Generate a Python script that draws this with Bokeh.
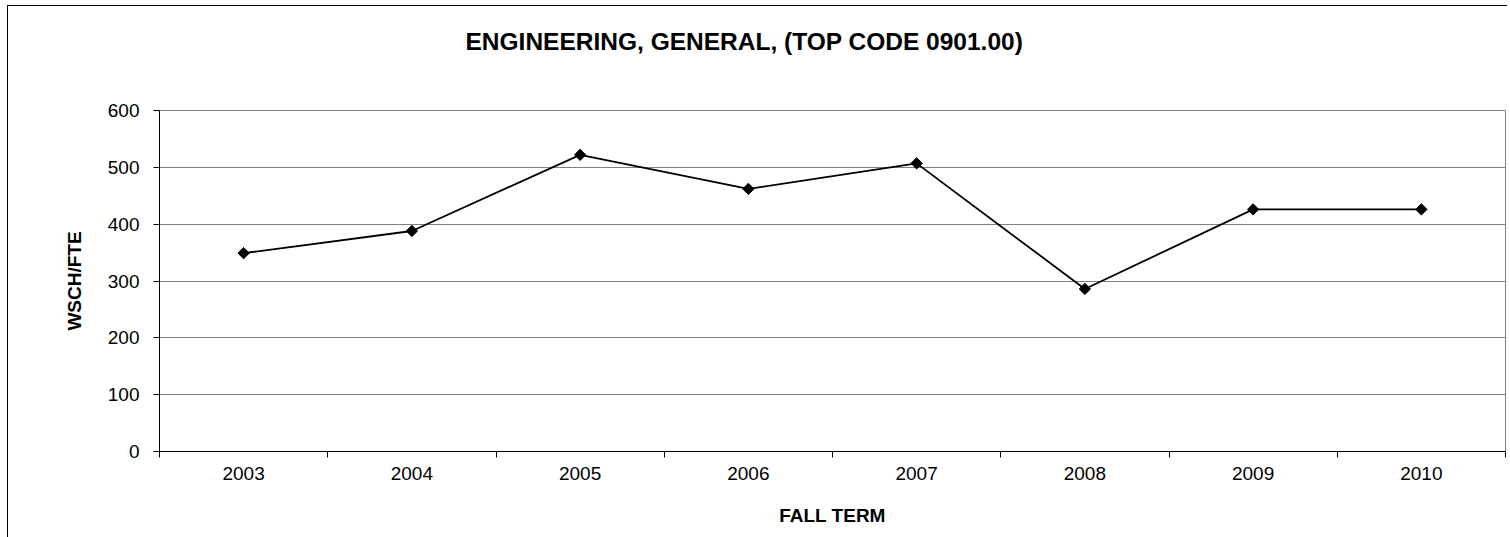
import math
from bokeh.plotting import figure
from bokeh.models import FixedTicker, Range1d, ColumnDataSource, Title
from bokeh.embed import file_html
from bokeh.resources import INLINE

# ---- data ----
years = ["2003", "2004", "2005", "2006", "2007", "2008", "2009", "2010"]
wsch_fte = [349, 388, 522, 462, 507, 286, 426, 426]
y_ticks = [0, 100, 200, 300, 400, 500, 600]
title_text = "ENGINEERING, GENERAL, (TOP CODE 0901.00)"
x_label = "FALL TERM"
y_label = "WSCH/FTE"

FONT = "Liberation Sans"

n = len(years)
xpos = [i + 0.5 for i in range(n)]
src = ColumnDataSource(dict(x=xpos, y=wsch_fte, year=years))

p = figure(width=1500, height=532, output_backend="svg", toolbar_location=None,
           title=None,
           x_range=Range1d(0, n), y_range=Range1d(0, 600),
           min_border_left=151, min_border_right=3, min_border_top=104, min_border_bottom=87)

p.styles = {"border-left": "1px solid black", "border-top": "1px solid black",
            "margin-left": "7px", "margin-top": "5px"}

# spacer between the plot area and the title, then the title itself
p.add_layout(Title(text=" ", text_font_size="2px", standoff=52), "above")
p.add_layout(Title(text=title_text, text_font=FONT, text_font_size="24.5px",
                   text_font_style="bold", text_color="black",
                   align="left", offset=306, standoff=0), "above")

p.background_fill_color = "white"
p.border_fill_color = "white"
p.outline_line_color = "#808080"
p.outline_line_width = 1

# grid
p.xgrid.grid_line_color = None
p.ygrid.grid_line_color = "#808080"
p.ygrid.grid_line_width = 1
p.ygrid.ticker = FixedTicker(ticks=y_ticks)

# y axis
p.yaxis.ticker = FixedTicker(ticks=y_ticks)
p.yaxis.axis_line_color = "black"
p.yaxis.axis_line_width = 1
p.yaxis.major_tick_in = 0
p.yaxis.major_tick_out = 6
p.yaxis.major_tick_line_color = "black"
p.yaxis.minor_tick_line_color = None
p.yaxis.major_label_text_font = FONT
p.yaxis.major_label_text_font_size = "19px"
p.yaxis.major_label_text_color = "black"
p.yaxis.major_label_standoff = 14
p.yaxis.axis_label = y_label
p.yaxis.axis_label_text_font = FONT
p.yaxis.axis_label_text_font_size = "19px"
p.yaxis.axis_label_text_font_style = "bold"
p.yaxis.axis_label_text_color = "black"
p.yaxis.axis_label_standoff = 20

# x axis: labels at category centres, ticks at category boundaries
p.xaxis.ticker = FixedTicker(ticks=xpos, minor_ticks=list(range(n + 1)))
p.xaxis.major_label_overrides = {x: yr for x, yr in zip(xpos, years)}
p.xaxis.axis_line_color = "black"
p.xaxis.axis_line_width = 1
p.xaxis.major_tick_in = 0
p.xaxis.major_tick_out = 0
p.xaxis.minor_tick_in = 0
p.xaxis.minor_tick_out = 6
p.xaxis.minor_tick_line_color = "black"
p.xaxis.major_label_text_font = FONT
p.xaxis.major_label_text_font_size = "19px"
p.xaxis.major_label_text_color = "black"
p.xaxis.major_label_standoff = 9
p.xaxis.axis_label = x_label
p.xaxis.axis_label_text_font = FONT
p.xaxis.axis_label_text_font_size = "19px"
p.xaxis.axis_label_text_font_style = "bold"
p.xaxis.axis_label_text_color = "black"
p.xaxis.axis_label_standoff = 22

# series
p.line("x", "y", source=src, line_color="black", line_width=1.8)
p.scatter("x", "y", source=src, marker="square", size=8, angle=math.pi / 4,
          fill_color="black", line_color="black")

open("out.html", "w").write(file_html(p, INLINE))
